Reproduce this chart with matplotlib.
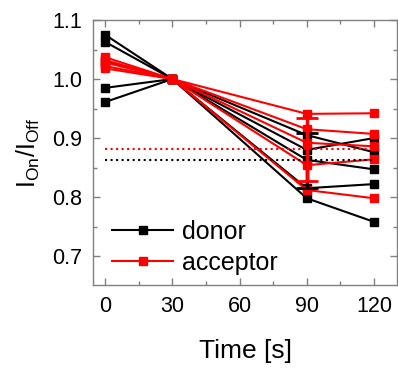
import matplotlib
matplotlib.use("Agg")
import matplotlib.pyplot as plt
from matplotlib.ticker import MultipleLocator

plt.rcParams['font.family'] = ['Liberation Sans', 'DejaVu Sans']
plt.rcParams['mathtext.fontset'] = 'custom'
plt.rcParams['mathtext.rm'] = 'Liberation Sans'

time_s = [0, 30, 90, 120]

# one row per sample
donor = [
    [1.075, 1.0, 0.905, 0.876],
    [1.063, 1.0, 0.880, 0.900],
    [1.030, 1.0, 0.863, 0.847],
    [0.985, 1.0, 0.815, 0.822],
    [0.961, 1.0, 0.798, 0.758],
]
acceptor = [
    [1.037, 1.0, 0.941, 0.942],
    [1.032, 1.0, 0.915, 0.907],
    [1.028, 1.0, 0.892, 0.886],
    [1.022, 1.0, 0.854, 0.864],
    [1.018, 1.0, 0.812, 0.798],
]

# mean level (dotted lines) and spread at 90 s
donor_mean, donor_err = 0.862, 0.047
acceptor_mean, acceptor_err = 0.881, 0.053
err_time = 90
mean_span = [0, 120]

BLACK = "#000000"
RED = "#ff0000"

fig = plt.figure(figsize=(3.98, 3.68), dpi=100)
ax = fig.add_axes([0.2337, 0.2255, 0.764, 0.7201])

style = dict(marker="s", markersize=6, linewidth=1.5)
for i, row in enumerate(donor):
    ax.plot(time_s, row, color=BLACK, label="donor" if i == 0 else None, **style)
for i, row in enumerate(acceptor):
    ax.plot(time_s, row, color=RED, label="acceptor" if i == 0 else None, **style)

ax.plot(mean_span, [donor_mean] * 2, color=BLACK, linestyle=":", linewidth=1.5)
ax.plot(mean_span, [acceptor_mean] * 2, color=RED, linestyle=":", linewidth=1.5)

ax.errorbar([err_time], [donor_mean], yerr=[donor_err], color=BLACK,
            elinewidth=2.5, capsize=8, capthick=2, fmt="none", zorder=4)
ax.errorbar([err_time], [acceptor_mean], yerr=[acceptor_err], color=RED,
            elinewidth=2.5, capsize=8, capthick=2, fmt="none", zorder=4)

ax.set_xlim(-5.4, 130.3)
ax.set_ylim(0.651, 1.1)
ax.xaxis.set_major_locator(MultipleLocator(30))
ax.xaxis.set_minor_locator(MultipleLocator(15))
ax.yaxis.set_major_locator(MultipleLocator(0.1))
ax.yaxis.set_minor_locator(MultipleLocator(0.05))
ax.yaxis.set_major_formatter(plt.FormatStrFormatter("%.1f"))

for side in ax.spines.values():
    side.set_color("#808080")
    side.set_linewidth(1.0)
ax.tick_params(which="both", direction="in", top=True, right=True,
               color="#808080", labelsize=15.5)
ax.tick_params(which="major", length=5, width=1, pad=8)
ax.tick_params(which="minor", length=3, width=1)

ax.set_xlabel("Time [s]", fontsize=19, labelpad=16)
ax.set_ylabel(r"$\mathregular{I_{On}/I_{Off}}$", fontsize=18, labelpad=7)

ax.legend(loc="lower left", bbox_to_anchor=(0.0625, 0.037), frameon=False,
          fontsize=18, handlelength=2.45, handletextpad=0.36, borderpad=0,
          borderaxespad=0, labelspacing=0.3)

fig.savefig("out.png", dpi=100)
